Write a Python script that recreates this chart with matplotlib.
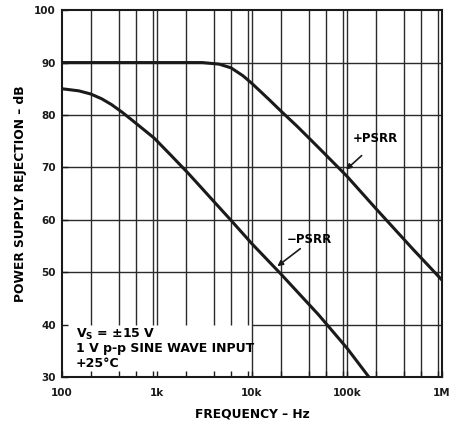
import numpy as np
import matplotlib
matplotlib.use("Agg")
import matplotlib.pyplot as plt

# +PSRR curve (dB vs Hz)
pos_f = [100, 1e3, 3e3, 4.5e3, 6e3, 8e3, 1e4, 1.5e4, 2e4, 3e4, 5e4, 1e5, 2e5, 5e5, 1e6]
pos_db = [90, 90, 90, 89.7, 89.0, 87.5, 86.0, 83.0, 80.8, 77.8, 73.8, 68.3, 62.2, 54.3, 48.5]

# -PSRR curve
neg_f = [100, 150, 200, 260, 330, 430, 600, 930, 1.4e3, 2.12e3, 3e3, 4e3, 6e3,
         1e4, 2e4, 5e4, 1e5, 1.7e5]
neg_db = [85, 84.6, 84.0, 83.1, 82.0, 80.5, 78.4, 75.6, 72.3, 68.9, 65.9, 63.4, 59.9,
          55.4, 49.7, 41.9, 35.5, 30]

xticks = [100, 1e3, 1e4, 1e5, 1e6]
xlabels = ["100", "1k", "10k", "100k", "1M"]
yticks = [30, 40, 50, 60, 70, 80, 90, 100]

plt.rcParams['font.family'] = ['DejaVu Sans']
plt.rcParams['font.weight'] = 'bold'
plt.rcParams['mathtext.default'] = 'regular'

fig = plt.figure(figsize=(4.57, 4.24), dpi=100)
ax = fig.add_axes([0.136, 0.111, 0.831, 0.865])
ax.set_xscale('log')
ax.set_xlim(100, 1e6)
ax.set_ylim(30, 100)

gc = '#2b2b2b'
minors = [d * m for d in [100, 1e3, 1e4, 1e5] for m in [2, 4, 6, 9]]
# vertical grid lines; the note box at lower left hides them below 40 dB
for x in minors + [1e3, 1e4, 1e5]:
    lo = 40 if x < 1e4 else 30
    ax.vlines(x, lo, 100, color=gc, lw=1.0, zorder=1)
for y in [50, 60, 70, 80, 90]:
    ax.hlines(y, 100, 1e6, color=gc, lw=1.0, zorder=1)
ax.hlines(40, 1e4, 1e6, color=gc, lw=1.0, zorder=1)

ax.plot(pos_f, pos_db, color='#1a1a1a', lw=2.2, zorder=3)
ax.plot(neg_f, neg_db, color='#1a1a1a', lw=2.2, zorder=3)

ax.set_xticks(xticks)
ax.set_xticklabels(xlabels)
ax.set_xticks(minors, minor=True)
ax.xaxis.set_minor_formatter(matplotlib.ticker.NullFormatter())
ax.set_yticks(yticks)
ax.tick_params(axis='both', which='both', direction='in', length=4, width=1,
               labelsize=7.5, colors='#1a1a1a')
ax.tick_params(axis='x', pad=8)
ax.tick_params(axis='y', pad=4.5)
for s in ax.spines.values():
    s.set_linewidth(1.5)
    s.set_color('#1a1a1a')

ax.set_xlabel("FREQUENCY – Hz", fontsize=8.8, fontweight='bold', labelpad=7)
ax.set_ylabel("POWER SUPPLY REJECTION – dB", fontsize=8.8, fontweight='bold', labelpad=5)

# curve labels with arrows
ax.text(1.15e5, 75.6, "+PSRR", fontsize=8.5, fontweight='bold', va='center')
ax.annotate("", xy=(9.3e4, 69.2), xytext=(1.5e5, 72.6),
            arrowprops=dict(arrowstyle='-|>', color='#1a1a1a', lw=1.2, mutation_scale=8))
ax.text(2.3e4, 56.3, "\u2212PSRR", fontsize=8.5, fontweight='bold', va='center')
ax.annotate("", xy=(1.75e4, 50.8), xytext=(3.4e4, 54.8),
            arrowprops=dict(arrowstyle='-|>', color='#1a1a1a', lw=1.2, mutation_scale=8))

ax.text(140, 38.2, "V$_S$ = \u00b115 V", fontsize=9, fontweight='bold', va='center')
ax.text(140, 35.4, "1 V p-p SINE WAVE INPUT", fontsize=9, fontweight='bold', va='center')
ax.text(140, 32.6, "+25\u00b0C", fontsize=9, fontweight='bold', va='center')

fig.savefig("out.png", dpi=100)
